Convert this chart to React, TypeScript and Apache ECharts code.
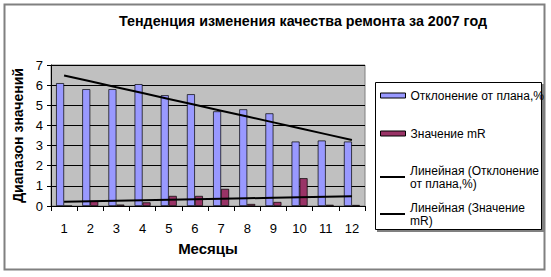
import React, { useEffect, useRef } from "react";
import * as echarts from "echarts";

const months = ["1", "2", "3", "4", "5", "6", "7", "8", "9", "10", "11", "12"];
const deviation = [6.1, 5.8, 5.8, 6.05, 5.5, 5.55, 4.7, 4.8, 4.6, 3.2, 3.25, 3.2];
const mR = [0, 0.25, 0.07, 0.18, 0.5, 0.5, 0.85, 0.1, 0.2, 1.38, 0.06, 0.05];
const yTicks = { min: 0, max: 7, interval: 1 };

const S1 = "Отклонение от плана,%";
const S2 = "Значение mR";
const S3 = "Линейная (Отклонение от плана,%)";
const S4 = "Линейная (Значение mR)";

function linearTrend(ys: number[]): number[] {
  const n = ys.length;
  const xs = ys.map((_, i) => i + 1);
  const mx = xs.reduce((a, b) => a + b, 0) / n;
  const my = ys.reduce((a, b) => a + b, 0) / n;
  let num = 0;
  let den = 0;
  for (let i = 0; i < n; i++) {
    num += (xs[i] - mx) * (ys[i] - my);
    den += (xs[i] - mx) * (xs[i] - mx);
  }
  const b = num / den;
  const a = my - b * mx;
  return xs.map((x) => +(a + b * x).toFixed(4));
}

const FONT = "'Liberation Sans', Arial, sans-serif";

export default function App() {
  const ref = useRef<HTMLDivElement>(null);
  useEffect(() => {
    if (!ref.current) return;
    const chart = echarts.init(ref.current, null, { renderer: "svg" });
    const legendText = {
      fontFamily: FONT,
      fontSize: 12,
      color: "#000",
      lineHeight: 13,
    };
    const wrap: Record<string, string> = {
      [S3]: "Линейная (Отклонение\nот плана,%)",
      [S4]: "Линейная (Значение\nmR)",
    };
    const mkLegend = (name: string, top: number, isBar: boolean) => ({
      show: true,
      orient: "vertical",
      left: 380,
      top,
      padding: 0,
      itemGap: 0,
      itemWidth: 25,
      itemHeight: isBar ? 5 : 2,
      itemStyle: isBar
        ? { borderColor: "#000", borderWidth: 1 }
        : { color: "#000", borderWidth: 0 },
      textStyle: legendText,
      formatter: (n: string) => wrap[n] || n,
      data: [{ name, icon: "rect" }],
      selectedMode: false,
    });
    chart.setOption({
      animation: false,
      backgroundColor: "#fff",
      textStyle: { fontFamily: FONT },
      title: {
        text: "Тенденция изменения качества ремонта за 2007 год",
        left: 298,
        textAlign: "center",
        top: 9,
        textStyle: { fontFamily: FONT, fontSize: 14.3, fontWeight: "bold", color: "#000" },
      },
      graphic: [
        {
          type: "rect",
          shape: { x: 4.5, y: 4.5, width: 540, height: 265 },
          style: { fill: "none", stroke: "#808080", lineWidth: 2 },
          z: -10,
        },
        {
          type: "rect",
          shape: { x: 377, y: 84, width: 167, height: 148 },
          style: { fill: "#808080", stroke: "none" },
          z: 0,
        },
        {
          type: "rect",
          shape: { x: 375.5, y: 82.5, width: 166, height: 147 },
          style: { fill: "#fff", stroke: "#000", lineWidth: 1 },
          z: 1,
        },
      ],
      legend: [
        mkLegend(S1, 89, true),
        mkLegend(S2, 127, true),
        mkLegend(S3, 164, false),
        mkLegend(S4, 201, false),
      ],
      grid: {
        left: 51,
        right: 186,
        top: 65,
        bottom: 71,
        show: true,
        backgroundColor: "#c0c0c0",
        borderColor: "#808080",
        borderWidth: 1,
      },
      xAxis: {
        type: "category",
        data: months,
        boundaryGap: true,
        name: "Месяцы",
        nameLocation: "middle",
        nameGap: 35,
        nameTextStyle: { fontFamily: FONT, fontSize: 15, fontWeight: "bold", color: "#000" },
        axisLine: { show: true, lineStyle: { color: "#000", width: 1 } },
        axisTick: { show: true, alignWithLabel: false, length: 5, lineStyle: { color: "#000" } },
        axisLabel: { fontFamily: FONT, fontSize: 13, color: "#000", margin: 16 },
        splitLine: { show: false },
      },
      yAxis: {
        type: "value",
        min: yTicks.min,
        max: yTicks.max,
        interval: yTicks.interval,
        name: "Диапазон значений",
        nameLocation: "middle",
        nameGap: 17,
        nameTextStyle: { fontFamily: FONT, fontSize: 14, fontWeight: "bold", color: "#000" },
        axisLine: { show: true, lineStyle: { color: "#000", width: 1 } },
        axisTick: { show: true, length: 4, lineStyle: { color: "#000" } },
        axisLabel: { fontFamily: FONT, fontSize: 13, color: "#000", margin: 8 },
        splitLine: { show: true, lineStyle: { color: "#000", width: 1 } },
      },
      series: [
        {
          name: S1,
          type: "bar",
          data: deviation,
          barWidth: 8,
          barGap: "0%",
          itemStyle: { color: "#9999ff", borderColor: "#000", borderWidth: 0.7 },
        },
        {
          name: S2,
          type: "bar",
          data: mR,
          barWidth: 8,
          barGap: "0%",
          itemStyle: { color: "#993366", borderColor: "#000", borderWidth: 0.7 },
        },
        {
          name: S3,
          type: "line",
          data: linearTrend(deviation),
          symbol: "none",
          lineStyle: { color: "#000", width: 2 },
          itemStyle: { color: "#000" },
          z: 5,
        },
        {
          name: S4,
          type: "line",
          data: linearTrend(mR),
          symbol: "none",
          lineStyle: { color: "#000", width: 2 },
          itemStyle: { color: "#000" },
          z: 5,
        },
      ],
    });
    return () => chart.dispose();
  }, []);
  return (
    <div
      ref={ref}
      style={{ position: "absolute", left: 0, top: 0, width: 551, height: 277 }}
    />
  );
}
